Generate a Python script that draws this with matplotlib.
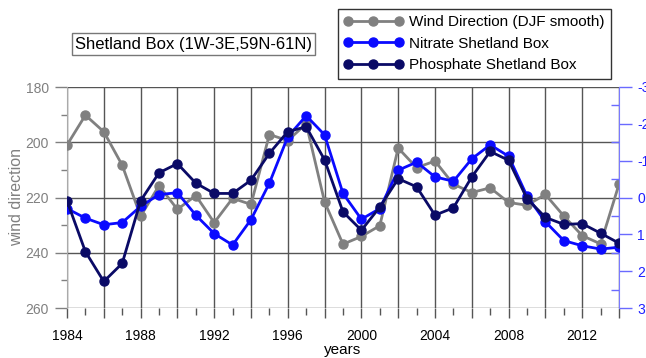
import matplotlib
matplotlib.use("Agg")
import matplotlib.pyplot as plt
from matplotlib.ticker import MultipleLocator
import numpy as np

plt.rcParams['font.family'] = ['Liberation Sans', 'DejaVu Sans']

years = list(range(1984, 2015))
wind_direction = [201.0, 190.2, 196.2, 208.3, 226.8, 215.7, 224.3, 219.3, 229.1, 220.3,
                  222.5, 197.2, 199.4, 193.3, 221.6, 236.9, 234.1, 230.2, 202.1, 209.2,
                  206.8, 215.2, 218.2, 216.5, 221.8, 222.8, 218.9, 226.7, 233.8, 236.8, 215.2]
nitrate = [0.30, 0.56, 0.74, 0.68, 0.24, -0.08, -0.13, 0.48, 0.98, 1.29,
           0.60, -0.39, -1.65, -2.22, -1.70, -0.11, 0.59, 0.30, -0.74, -0.96,
           -0.56, -0.44, -1.05, -1.43, -1.12, -0.04, 0.66, 1.17, 1.31, 1.40, 1.35]
phosphate = [0.09, 1.47, 2.28, 1.79, 0.09, -0.67, -0.92, -0.39, -0.11, -0.11,
             -0.47, -1.20, -1.79, -1.92, -1.02, 0.39, 0.89, 0.26, -0.51, -0.29,
             0.48, 0.28, -0.56, -1.25, -1.01, 0.03, 0.54, 0.73, 0.71, 0.97, 1.24]
x_ticklabels = ['1984', '1988', '1992', '1996', '2000', '2004', '2008', '2012']
left_ticks = [180, 200, 220, 240, 260]
right_ticks = [-3, -2, -1, 0, 1, 2, 3]

W, H = 646, 358
fig = plt.figure(figsize=(W / 100, H / 100), dpi=100)
ax = fig.add_axes([67 / W, 1 - 308 / H, (619 - 67) / W, (308 - 87) / H])
ax2 = ax.twinx()

grid_c = '#555555'
gray = '#808080'
blue = '#0a0aff'
navy = '#0a0a66'
lw = 2.0
ms = 6.5

l1, = ax.plot(years, wind_direction, color=gray, lw=lw, marker='o', ms=ms, zorder=3,
              label='Wind Direction (DJF smooth)')
l2, = ax2.plot(years, nitrate, color=blue, lw=lw, marker='o', ms=ms, zorder=3,
               label='Nitrate Shetland Box')
l3, = ax2.plot(years, phosphate, color=navy, lw=lw, marker='o', ms=ms, zorder=4,
               label='Phosphate Shetland Box')

ax.set_xlim(1984, 2014)
ax.set_ylim(260, 180)
ax2.set_ylim(3, -3)

# x ticks
lab_map = {int(t): t for t in x_ticklabels}
xt = np.arange(1984, 2015, 2)
ax.set_xticks(xt)
ax.set_xticklabels([lab_map.get(int(v), '') for v in xt])
ax.xaxis.set_minor_locator(MultipleLocator(1))
ax.tick_params(axis='x', which='major', direction='out', length=7, width=1, color=grid_c,
               labelsize=10, labelcolor='black', pad=8)
ax.tick_params(axis='x', which='minor', direction='out', length=5, width=1, color=grid_c)

# left y
ax.set_yticks(left_ticks)
ax.yaxis.set_minor_locator(MultipleLocator(10))
ax.tick_params(axis='y', which='major', direction='out', length=9, width=1, color=gray,
               labelsize=10, labelcolor=gray, pad=4)
ax.tick_params(axis='y', which='minor', direction='out', length=4, width=1, color=gray)

# right y
ax2.set_yticks(right_ticks)
ax2.set_yticklabels([str(v) for v in right_ticks])
ax2.yaxis.set_minor_locator(MultipleLocator(0.5))
ax2.tick_params(axis='y', which='major', direction='out', length=9, width=1, color='#6a6aff',
                labelsize=10, labelcolor='#2020ff', pad=4)
ax2.tick_params(axis='y', which='minor', direction='in', length=6, width=1, color='#6a6aff')

ax.grid(True, which='major', color=grid_c, lw=1)
ax.set_axisbelow(True)
for s in ['top', 'bottom']:
    ax.spines[s].set_visible(False)
    ax2.spines[s].set_visible(False)
ax.spines['right'].set_visible(False)
ax.spines['left'].set_color('#aaaaaa')
ax2.spines['left'].set_visible(False)
ax2.spines['right'].set_color('#7a7aff')

ax.set_ylabel('wind direction', color=gray, fontsize=11.5, va='center')
ax.yaxis.set_label_coords(-(67 - 17) / (619 - 67), 0.5)
ax.set_xlabel('years', color='black', fontsize=11, va='center')
ax.xaxis.set_label_coords(0.5, -(350 - 308) / (308 - 87))

fig.text(193.5 / W, 1 - 44 / H, 'Shetland Box (1W-3E,59N-61N)', ha='center', va='center',
         fontsize=12, bbox=dict(boxstyle='square,pad=0.2', fc='white', ec='#777777', lw=1))

leg = fig.legend(handles=[l1, l2, l3], loc='upper right',
                 bbox_to_anchor=(611 / W, 1 - 9 / H), fontsize=11, numpoints=3,
                 handlelength=3.9, handletextpad=0.4, labelspacing=0.5, borderpad=0.4,
                 borderaxespad=0, fancybox=False, framealpha=1, edgecolor='#333333')
leg.get_frame().set_linewidth(1)

fig.savefig('out.png', dpi=100)
